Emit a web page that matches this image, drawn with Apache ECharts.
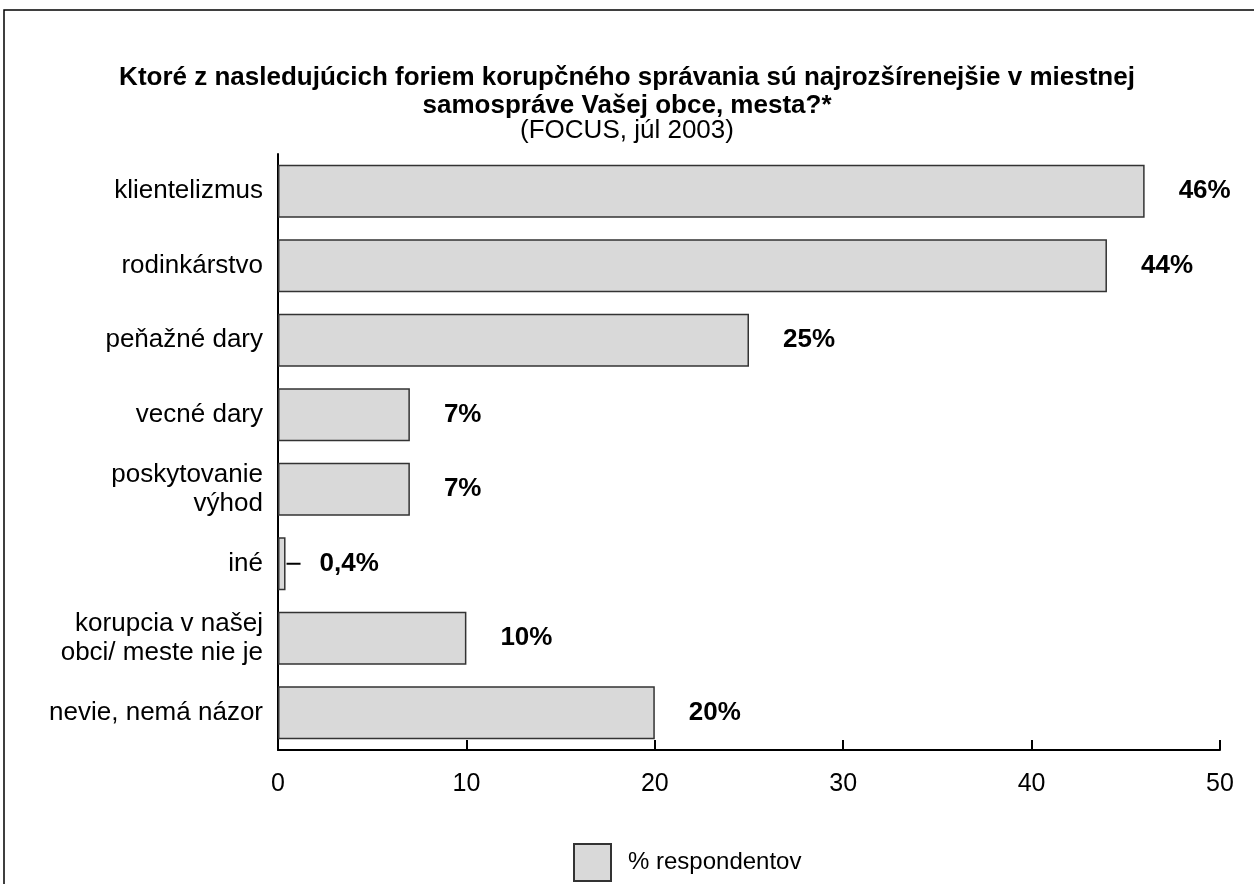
<!DOCTYPE html>
<html>
<head>
<meta charset="utf-8">
<script src="https://cdn.jsdelivr.net/npm/echarts@6/dist/echarts.min.js"></script>
<style>
html,body{margin:0;padding:0;background:#fff;}
#chart{width:1254px;height:884px;}
</style>
</head>
<body>
<div id="chart"></div>
<script>
const categories = ['klientelizmus','rodinkárstvo','peňažné dary','vecné dary','poskytovanie\nvýhod','iné','korupcia v našej\nobci/ meste nie je','nevie, nemá názor'];
const values = [46, 44, 25, 7, 7, 0.4, 10, 20];
const valueLabels = ['46%','44%','25%','7%','7%','0,4%','10%','20%'];
const xTicks = [0, 10, 20, 30, 40, 50];
const seriesName = '% respondentov';
const titleText = 'Ktoré z nasledujúcich foriem korupčného správania sú najrozšírenejšie v miestnej\nsamospráve Vašej obce, mesta?*';
const subText = '(FOCUS, júl 2003)';

const FONT = '"Liberation Sans", Arial, sans-serif';
const chart = echarts.init(document.getElementById('chart'), null, {renderer:'canvas'});

const frame = {
  type: 'rect',
  shape: {x: 4, y: 10, width: 1300, height: 1000},
  style: {fill: 'none', stroke: '#000', lineWidth: 1.5},
  silent: true,
  z: 100
};

const option = {
  animation: false,
  backgroundColor: '#fff',
  textStyle: {fontFamily: FONT, color: '#000'},
  title: {
    text: titleText,
    subtext: subText,
    left: 'center',
    top: 59,
    itemGap: 0,
    textStyle: {fontFamily: FONT, fontSize: 26, fontWeight: 'bold', color: '#000', lineHeight: 28},
    subtextStyle: {fontFamily: FONT, fontSize: 26, color: '#000', lineHeight: 22}
  },
  legend: {
    left: 568,
    top: 838,
    itemWidth: 37,
    itemHeight: 37,
    itemGap: 10,
    icon: 'rect',
    textStyle: {fontFamily: FONT, fontSize: 24, color: '#000', padding: [0,0,0,12]},
    data: [seriesName]
  },
  grid: {left: 278, right: 34, top: 154, bottom: 134, containLabel: false},
  xAxis: {
    type: 'value',
    min: xTicks[0],
    max: xTicks[xTicks.length-1],
    interval: 10,
    splitLine: {show: false},
    axisLine: {show: true, lineStyle: {color: '#000', width: 2}},
    axisTick: {show: true, inside: true, length: 10, lineStyle: {color: '#000', width: 2}},
    axisLabel: {fontFamily: FONT, fontSize: 25, color: '#000', margin: 22}
  },
  yAxis: {
    type: 'category',
    inverse: true,
    data: categories,
    axisLine: {show: true, lineStyle: {color: '#000', width: 2}},
    axisTick: {show: false},
    axisLabel: {fontFamily: FONT, fontSize: 26, color: '#000', margin: 15, lineHeight: 29, align: 'right'}
  },
  series: [{
    name: seriesName,
    type: 'bar',
    data: values,
    barCategoryGap: '29%',
    itemStyle: {color: '#d9d9d9', borderColor: '#333', borderWidth: 1.5},
    label: {
      show: true,
      position: 'right',
      distance: 34,
      fontFamily: FONT,
      fontSize: 26,
      fontWeight: 'bold',
      color: '#000',
      formatter: p => valueLabels[p.dataIndex]
    }
  }],
  graphic: [frame]
};
chart.setOption(option);

// leader line for the tiny "iné" bar
const idx = values.indexOf(0.4);
const p0 = chart.convertToPixel({gridIndex: 0}, [values[idx], categories[idx]]);
chart.setOption({
  graphic: [frame, {
    type: 'line',
    shape: {x1: p0[0] + 1, y1: p0[1], x2: p0[0] + 15, y2: p0[1]},
    style: {stroke: '#000', lineWidth: 2},
    silent: true,
    z: 100
  }]
});
</script>
</body>
</html>
